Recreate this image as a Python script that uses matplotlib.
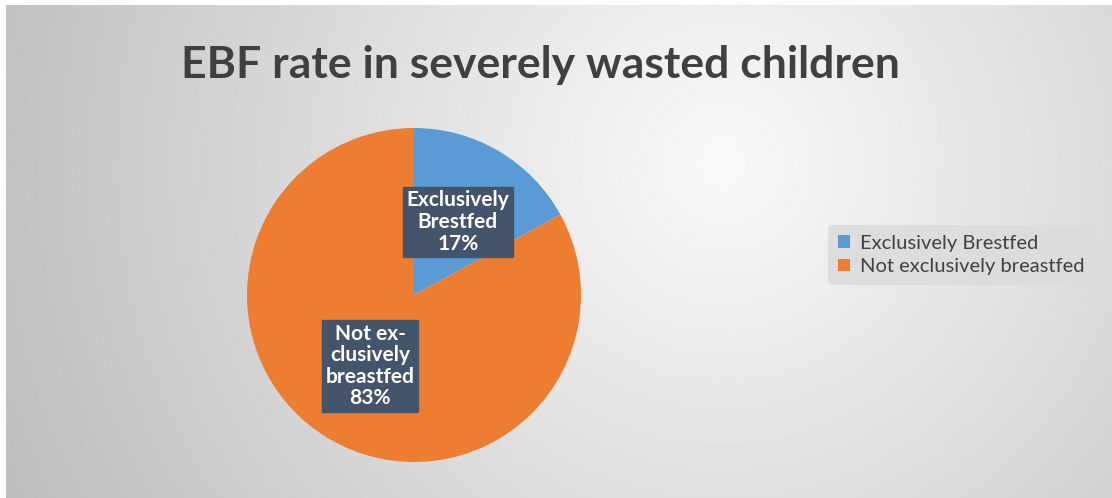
import numpy as np
import matplotlib.pyplot as plt

# datos del grafico
categorias = ["Exclusively Brestfed", "Not exclusively breastfed"]
etiquetas = ["Exclusively\nBrestfed", "Not ex-\nclusively\nbreastfed"]
valores = [17, 83]
colores = ["#5B9BD5", "#ED7D31"]

plt.rcParams['font.family'] = ['Lato', 'DejaVu Sans']

W, H = 1112, 498
fig = plt.figure(figsize=(W / 100, H / 100), dpi=100)
fig.patch.set_facecolor("white")

# fondo con degradado radial
bg = fig.add_axes([6 / W, 0, 1 - 6 / W, 1 - 5 / H])
yy, xx = np.mgrid[0:H, 0:W]
d = np.sqrt((xx - 720) ** 2 + (yy - 160) ** 2) / 800
d = np.clip(d, 0, 1)
c = 0.98 - 0.24 * d
bg.imshow(c, cmap="gray", vmin=0, vmax=1, aspect="auto", extent=[0, 1, 0, 1])
bg.axis("off")

fig.text(540 / W, 1 - 65 / H, "EBF rate in severely wasted children",
         ha="center", va="center", fontsize=32, fontweight="bold", color="#404040")

ax = fig.add_axes([247 / W, 36 / H, 334 / W, 334 / H])
wedges, _ = ax.pie(valores, colors=colores, startangle=90, counterclock=False,
                   radius=1)
ax.set_xlim(-1, 1)
ax.set_ylim(-1, 1)
ax.set_aspect("equal")
ax.axis("off")

pos = [(0.263, 0.437), (-0.263, -0.425)]
for (x, y), lab, v in zip(pos, etiquetas, valores):
    ax.text(x, y, f"{lab}\n{v}%", ha="center", va="center", fontsize=15,
            fontweight="bold", color="white", linespacing=1.1,
            bbox=dict(boxstyle="square,pad=0.17", fc="#44546A", ec="#44546A"))

leg = fig.legend(wedges, categorias, loc="center left",
                 bbox_to_anchor=(818 / W, 1 - 255 / H), fontsize=14.5,
                 frameon=True, handlelength=0.6, handleheight=0.6,
                 handletextpad=0.5, labelspacing=0.3, borderpad=0.5)
leg.get_frame().set_facecolor("#DCDCDC")
leg.get_frame().set_edgecolor("none")
leg.get_frame().set_alpha(0.9)
for t in leg.get_texts():
    t.set_color("#404040")

fig.savefig("out.png", dpi=100)
